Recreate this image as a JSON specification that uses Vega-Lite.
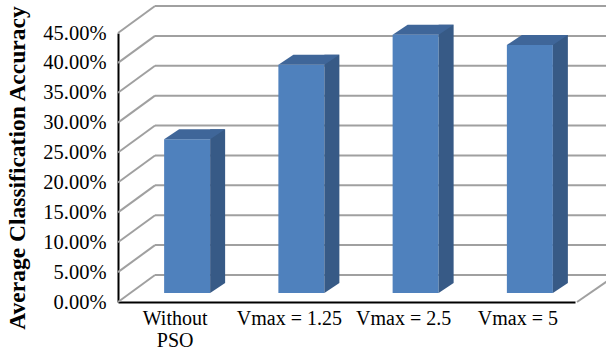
{
  "$schema": "https://vega.github.io/schema/vega-lite/v6.json",
  "width": 457,
  "height": 269,
  "autosize": {"type": "none"},
  "padding": {"left": 118, "top": 33, "right": 31, "bottom": 49},
  "background": "white",
  "config": {"view": {"stroke": null}, "font": "Liberation Serif"},
  "datasets": {
    "results": [
      {"setting": "Without PSO", "accuracy": 0.257},
      {"setting": "Vmax = 1.25", "accuracy": 0.382},
      {"setting": "Vmax = 2.5", "accuracy": 0.432},
      {"setting": "Vmax = 5", "accuracy": 0.415}
    ],
    "ticks": [
      {"tick": 0}, {"tick": 0.05}, {"tick": 0.1}, {"tick": 0.15}, {"tick": 0.2},
      {"tick": 0.25}, {"tick": 0.3}, {"tick": 0.35}, {"tick": 0.4}, {"tick": 0.45}
    ]
  },
  "layer": [
    {
      "description": "back wall gridlines, carrying the value axis",
      "data": {"name": "ticks"},
      "mark": {"type": "rule", "color": "#A0A0A0", "strokeWidth": 2, "xOffset": 37, "x2Offset": 37, "yOffset": -27},
      "encoding": {
        "x": {"datum": 0, "type": "quantitative", "scale": {"domain": [0, 1], "nice": false}, "axis": null},
        "x2": {"datum": 1},
        "y": {
          "field": "tick", "type": "quantitative",
          "scale": {"domain": [0, 0.45], "nice": false},
          "axis": {
            "title": "Average Classification Accuracy",
            "titleFontSize": 23.5, "titleFontWeight": "bold",
            "titleColor": "#000", "titlePadding": 13,
            "values": [0, 0.05, 0.1, 0.15, 0.2, 0.25, 0.3, 0.35, 0.4, 0.45],
            "tickCount": 10,
            "format": ".2%",
            "labelFontSize": 20.5, "labelOverlap": false,
            "labelColor": "#000", "labelPadding": 12, "labelFlush": false,
            "ticks": false, "grid": false, "domainColor": "#000", "domainWidth": 2
          }
        }
      }
    },
    {
      "description": "side wall lines",
      "data": {"name": "ticks"},
      "mark": {"type": "rule", "color": "#A0A0A0", "strokeWidth": 2, "x2Offset": 37, "y2Offset": -27},
      "encoding": {
        "x": {"datum": 0, "type": "quantitative", "scale": {"domain": [0, 1], "nice": false}, "axis": null},
        "x2": {"datum": 0},
        "y": {"field": "tick", "type": "quantitative"},
        "y2": {"field": "tick"}
      }
    },
    {
      "description": "right edge of the floor",
      "data": {"name": "ticks"},
      "transform": [{"filter": "datum.tick === 0"}],
      "mark": {"type": "rule", "color": "#A0A0A0", "strokeWidth": 2, "xOffset": 2, "x2Offset": 41, "y2Offset": -27},
      "encoding": {
        "x": {"datum": 1, "type": "quantitative", "scale": {"domain": [0, 1], "nice": false}, "axis": null},
        "x2": {"datum": 1},
        "y": {"field": "tick", "type": "quantitative"},
        "y2": {"field": "tick"}
      }
    },
    {
      "data": {"name": "results"},
      "layer": [
        {
          "description": "front face of each column",
          "mark": {"type": "bar", "color": "#4F81BD", "width": 46, "xOffset": 12, "x2Offset": 12, "yOffset": -9, "y2Offset": -9},
          "encoding": {
            "x": {
              "field": "setting", "type": "nominal", "sort": null,
              "scale": {"paddingInner": 0, "paddingOuter": 0},
              "axis": {
                "title": null, "domainColor": "#000", "domainWidth": 2, "ticks": false,
                "labelFontSize": 20, "labelColor": "#000",
                "labelPadding": 6, "labelAngle": 0, "labelLineHeight": 22,
                "labelExpr": "datum.value == 'Without PSO' ? ['Without', 'PSO'] : datum.value"
              }
            },
            "y": {"field": "accuracy", "type": "quantitative"},
            "y2": {"datum": 0}
          }
        },
        {
          "description": "shaded side of each column",
          "mark": {"type": "bar", "color": "#375A86", "width": 15, "xOffset": 42.5, "x2Offset": 42.5, "yOffset": -19, "y2Offset": -19},
          "encoding": {
            "x": {"field": "setting", "type": "nominal", "sort": null},
            "y": {"field": "accuracy", "type": "quantitative"},
            "y2": {"datum": 0}
          }
        },
        {
          "description": "lower corner of the side face",
          "mark": {"type": "point", "shape": "M23,-10L23,0L38,-10Z", "size": 4, "filled": true, "opacity": 1, "color": "#375A86", "strokeWidth": 0, "xOffset": 12, "yOffset": -9},
          "encoding": {
            "x": {"field": "setting", "type": "nominal", "sort": null},
            "y": {"datum": 0, "type": "quantitative"}
          }
        },
        {
          "description": "top face of each column",
          "mark": {"type": "point", "shape": "M-23,0L23,0L38,-10L-8,-10Z", "size": 4, "filled": true, "opacity": 1, "color": "#3F6699", "strokeWidth": 0, "xOffset": 12, "yOffset": -9},
          "encoding": {
            "x": {"field": "setting", "type": "nominal", "sort": null},
            "y": {"field": "accuracy", "type": "quantitative"}
          }
        }
      ]
    }
  ],
  "resolve": {"scale": {"x": "independent"}}
}
